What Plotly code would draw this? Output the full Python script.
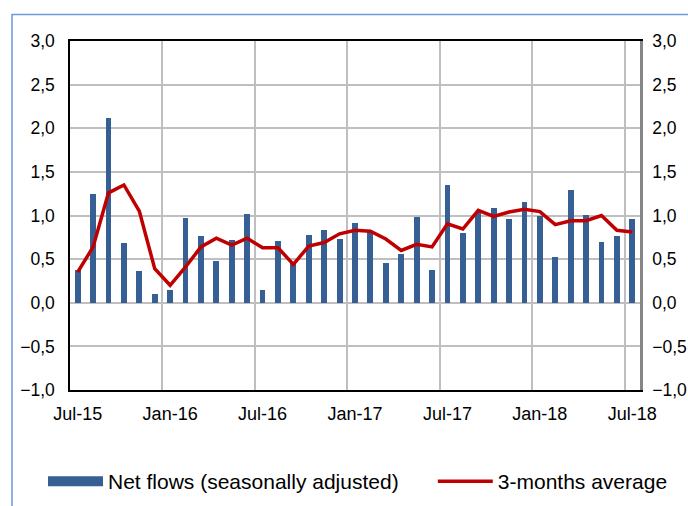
import plotly.graph_objects as go

months = ["Jul-15", "Aug-15", "Sep-15", "Oct-15", "Nov-15", "Dec-15",
          "Jan-16", "Feb-16", "Mar-16", "Apr-16", "May-16", "Jun-16",
          "Jul-16", "Aug-16", "Sep-16", "Oct-16", "Nov-16", "Dec-16",
          "Jan-17", "Feb-17", "Mar-17", "Apr-17", "May-17", "Jun-17",
          "Jul-17", "Aug-17", "Sep-17", "Oct-17", "Nov-17", "Dec-17",
          "Jan-18", "Feb-18", "Mar-18", "Apr-18", "May-18", "Jun-18",
          "Jul-18"]

net_flows = [0.38, 1.25, 2.12, 0.69, 0.36, 0.10, 0.15, 0.97, 0.76, 0.48, 0.72, 1.02,
             0.15, 0.71, 0.45, 0.78, 0.83, 0.73, 0.91, 0.81, 0.46, 0.56, 0.98, 0.37,
             1.35, 0.80, 1.04, 1.09, 0.96, 1.16, 1.00, 0.52, 1.29, 1.01, 0.70, 0.77,
             0.96]

avg_3m = [0.35, 0.64, 1.26, 1.35, 1.05, 0.39, 0.20, 0.41, 0.64, 0.74, 0.66, 0.74,
          0.63, 0.63, 0.44, 0.65, 0.69, 0.79, 0.83, 0.82, 0.73, 0.60, 0.67, 0.64,
          0.905, 0.845, 1.06, 0.99, 1.04, 1.07, 1.045, 0.895, 0.94, 0.94, 1.00, 0.83,
          0.81]

y_ticks = [-1.0, -0.5, 0.0, 0.5, 1.0, 1.5, 2.0, 2.5, 3.0]

BAR = "#365f94"
RED = "#c00000"
GRID = "#bfbfbf"
FONT = "Liberation Sans, Arial, sans-serif"
NBSP = "\u00a0"

idx = list(range(len(months)))
label_idx = idx[::6]
label_txt = [months[i] for i in label_idx]
bound_idx = [i - 0.5 for i in label_idx]

W, H = 688, 506
ML, MR, MT, MB = 70, 48, 41, 116
PW, PH = W - ML - MR, H - MT - MB

def px2x(p):
    return (p - ML) / PW

def px2y(p):
    return (H - MB - p) / PH

fig = go.Figure()
fig.add_trace(go.Bar(x=idx, y=net_flows, width=0.38, marker=dict(color=BAR, line=dict(width=0)),
                     showlegend=False, name="Net flows (seasonally adjusted)"))
fig.add_trace(go.Scatter(x=idx, y=avg_3m, mode="lines", line=dict(color=RED, width=3.5),
                         yaxis="y2", showlegend=False, name="3-months average"))
# legend proxies
fig.add_trace(go.Scatter(x=[None], y=[None], mode="lines", line=dict(color=BAR, width=11),
                         name="Net flows (seasonally adjusted)" + NBSP * 5))
fig.add_trace(go.Scatter(x=[None], y=[None], mode="lines", line=dict(color=RED, width=3.5),
                         name="3-months average"))

yr = [-1.0, 3.0]
fig.update_layout(
    width=W, height=H,
    margin=dict(l=ML, r=MR, t=MT, b=MB, pad=0, autoexpand=False),
    paper_bgcolor="white", plot_bgcolor="white",
    separators=", ",
    font=dict(family=FONT, size=18, color="black"),
    bargap=0,
    xaxis=dict(range=[-0.5, len(months) - 0.5], tickmode="array", tickvals=label_idx,
               ticktext=label_txt, showgrid=False, zeroline=False,
               showline=True, linecolor="black", linewidth=1.5, mirror=True,
               ticks="", tickfont=dict(size=18), ticklabelstandoff=7,
               minor=dict(tickmode="array", tickvals=bound_idx, showgrid=True,
                          gridcolor=GRID, gridwidth=1.5, ticks="")),
    yaxis=dict(range=yr, tickmode="array", tickvals=y_ticks, tickformat=".1f",
               showgrid=True, gridcolor=GRID, gridwidth=1.5, zeroline=False,
               showline=True, linecolor="black", linewidth=1.5, ticks="",
               ticklabelstandoff=10, tickfont=dict(size=17.5)),
    yaxis2=dict(range=yr, overlaying="y", side="right", tickmode="array",
                tickvals=y_ticks, tickformat=".1f", showgrid=False, zeroline=False,
                showline=True, linecolor="#868686", linewidth=2.5, ticks="",
                ticklabelstandoff=6, tickfont=dict(size=17.5)),
    legend=dict(orientation="h", x=px2x(43), y=px2y(461), xanchor="left", yanchor="top",
                font=dict(size=21), itemwidth=55,
                bgcolor="rgba(0,0,0,0)"),
    shapes=[dict(type="rect", xref="paper", yref="paper",
                 x0=px2x(12), x1=px2x(700), y0=px2y(14.5), y1=px2y(520),
                 line=dict(color="#6a9bd8", width=1.5), layer="below")],
)

fig.write_html("out.html", config={"displayModeBar": False},
               post_script="document.body.style.margin='0';document.body.style.overflow='hidden';")
